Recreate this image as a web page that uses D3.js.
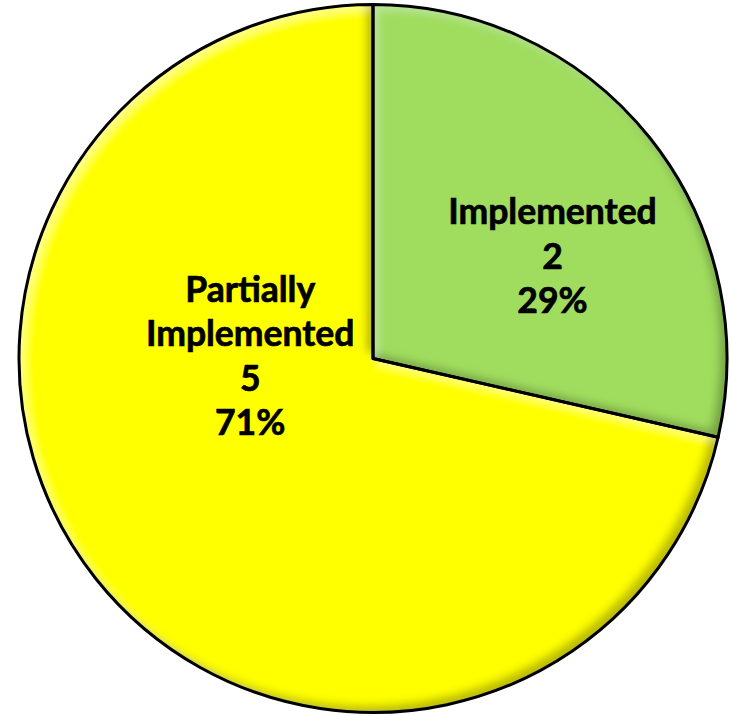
<!DOCTYPE html>
<html>
<head>
<meta charset="utf-8">
<script src="https://cdn.jsdelivr.net/npm/d3@7"></script>
<style>
  html, body { margin: 0; padding: 0; background: #fff; }
  svg { display: block; }
  .lbl { font-family: Lato, "Open Sans", sans-serif; font-weight: 700; fill: #000; stroke: #000; stroke-width: 0.7px; }
</style>
</head>
<body>
<svg id="chart" width="730" height="716"></svg>
<script>
// Implementation status counts
const categories = ["Implemented", "Partially Implemented"];
const counts = [2, 5];
const labelLines = [["Implemented"], ["Partially", "Implemented"]];
const colors = ["#A0DD5E", "#FFFF00"];

// Label placement: angle (deg, clockwise from 12 o'clock) and fraction of radius
const labelAngle = [60.6, 270.7];
const labelRadius = [0.582, 0.347];

const width = 730, height = 716;
const cx = 373, cy = 358.5, radius = 354;

const svg = d3.select("#chart");
const defs = svg.append("defs");

// Bevel: darker inner band on lower-right edges, lighter on upper-left edges
const f = defs.append("filter").attr("id", "bevel")
  .attr("x", "-5%").attr("y", "-5%").attr("width", "110%").attr("height", "110%");
f.append("feGaussianBlur").attr("in", "SourceAlpha").attr("stdDeviation", 4).attr("result", "blur");
f.append("feOffset").attr("in", "blur").attr("dx", -7).attr("dy", -7).attr("result", "offA");
f.append("feComposite").attr("in", "SourceAlpha").attr("in2", "offA")
  .attr("operator", "arithmetic").attr("k2", 1).attr("k3", -1).attr("result", "shadeMask");
f.append("feFlood").attr("flood-color", "#000").attr("flood-opacity", 0.5).attr("result", "dark");
f.append("feComposite").attr("in", "dark").attr("in2", "shadeMask").attr("operator", "in").attr("result", "shade");
f.append("feOffset").attr("in", "blur").attr("dx", 5).attr("dy", 5).attr("result", "offB");
f.append("feComposite").attr("in", "SourceAlpha").attr("in2", "offB")
  .attr("operator", "arithmetic").attr("k2", 1).attr("k3", -1).attr("result", "hiMask");
f.append("feFlood").attr("flood-color", "#fff").attr("flood-opacity", 0.25).attr("result", "light");
f.append("feComposite").attr("in", "light").attr("in2", "hiMask").attr("operator", "in").attr("result", "hi");
const merge = f.append("feMerge").attr("result", "merged");
merge.append("feMergeNode").attr("in", "SourceGraphic");
merge.append("feMergeNode").attr("in", "shade");
merge.append("feMergeNode").attr("in", "hi");
f.append("feComposite").attr("in", "merged").attr("in2", "SourceAlpha").attr("operator", "in");

const data = categories.map((c, i) => ({ name: c, value: counts[i], i }));
const pie = d3.pie().value(d => d.value).sort(null);
const arcs = pie(data);
const arc = d3.arc().innerRadius(0).outerRadius(radius);

const g = svg.append("g").attr("transform", `translate(${cx},${cy})`);

g.selectAll("path.fill")
  .data(arcs)
  .join("path")
  .attr("class", "fill")
  .attr("d", arc)
  .attr("fill", d => colors[d.data.i])
  .attr("filter", "url(#bevel)");

g.selectAll("path.edge")
  .data(arcs)
  .join("path")
  .attr("class", "edge")
  .attr("d", arc)
  .attr("fill", "none")
  .attr("stroke", "#000")
  .attr("stroke-width", 3)
  .attr("stroke-linejoin", "round");

const total = d3.sum(counts);
const lineH = 44.5, fontSize = 35.5, capH = 23;

arcs.forEach(a => {
  const i = a.data.i;
  const ang = labelAngle[i] * Math.PI / 180;
  const r = labelRadius[i] * radius;
  const x = r * Math.sin(ang), y = -r * Math.cos(ang);
  const lines = [...labelLines[i], String(a.data.value), Math.round(a.data.value / total * 100) + "%"];
  const first = y + capH / 2 - (lines.length - 1) * lineH / 2;
  const t = g.append("text").attr("class", "lbl")
    .attr("text-anchor", "middle")
    .attr("font-size", fontSize);
  lines.forEach((ln, k) => {
    t.append("tspan").attr("x", x).attr("y", first + k * lineH).text(ln);
  });
});
</script>
</body>
</html>
